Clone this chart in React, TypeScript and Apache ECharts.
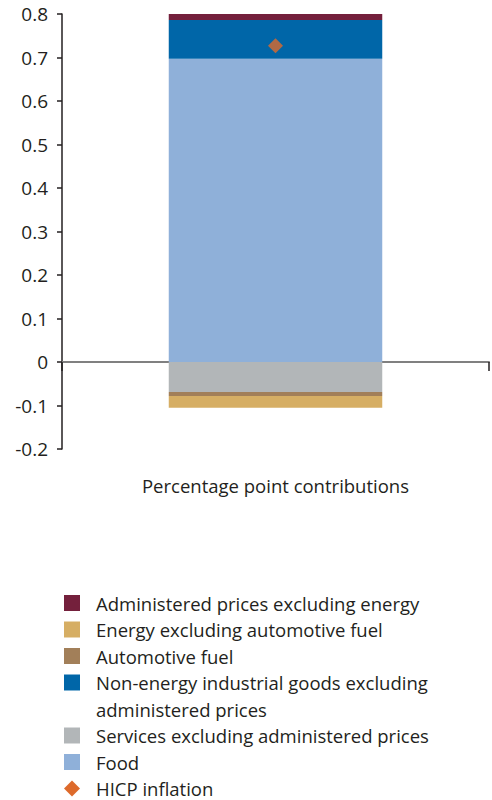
import React, { useEffect, useRef } from "react";
import * as echarts from "echarts";

// Category and contribution values (percentage points)
const categories = ["Percentage point contributions"];
const food = [0.697];
const nonEnergyGoods = [0.089];
const administered = [0.016];
const services = [-0.069];
const automotiveFuel = [-0.009];
const energyExFuel = [-0.027];
const hicp = [0.727];

const yTicks = { min: -0.2, max: 0.8, interval: 0.1 };

const COLORS = {
  administered: "#74203c",
  energyExFuel: "#d6ae64",
  automotiveFuel: "#a27f59",
  nonEnergyGoods: "#0066a8",
  services: "#b2b6b8",
  food: "#8fb0d9",
  hicp: "#dd6a2b",
};

const NAMES = {
  administered: "Administered prices excluding energy",
  energyExFuel: "Energy excluding automotive fuel",
  automotiveFuel: "Automotive fuel",
  nonEnergyGoods: "Non-energy industrial goods excluding administered prices",
  services: "Services excluding administered prices",
  food: "Food",
  hicp: "HICP inflation",
};

// Legend rows, top to bottom; label lines as drawn
const legendRows: { key: keyof typeof COLORS; lines: string[]; diamond?: boolean }[] = [
  { key: "administered", lines: ["Administered prices excluding energy"] },
  { key: "energyExFuel", lines: ["Energy excluding automotive fuel"] },
  { key: "automotiveFuel", lines: ["Automotive fuel"] },
  { key: "nonEnergyGoods", lines: ["Non-energy industrial goods excluding", "administered prices"] },
  { key: "services", lines: ["Services excluding administered prices"] },
  { key: "food", lines: ["Food"] },
  { key: "hicp", lines: ["HICP inflation"], diamond: true },
];

const FONT = "'Open Sans', 'Noto Sans', sans-serif";
const TEXT = "#231f20";

function buildLegend() {
  const elements: any[] = [];
  const lineH = 26.5;
  let row = 0;
  const firstCenter = 603;
  for (const item of legendRows) {
    const cy = firstCenter + row * lineH;
    if (item.diamond) {
      elements.push({
        type: "polygon",
        shape: { points: [[72, cy - 8], [80, cy], [72, cy + 8], [64, cy]] },
        style: { fill: COLORS[item.key] },
      });
    } else {
      elements.push({
        type: "rect",
        shape: { x: 64, y: cy - 8, width: 16, height: 16 },
        style: { fill: COLORS[item.key] },
      });
    }
    elements.push({
      type: "text",
      x: 96,
      y: cy - lineH / 2,
      style: {
        text: item.lines.join("\n"),
        fill: TEXT,
        font: `18.5px ${FONT}`,
        lineHeight: lineH,
        verticalAlign: "top",
        align: "left",
      },
    });
    row += item.lines.length;
  }
  return elements;
}

function barSeries(name: string, data: number[], color: string) {
  return {
    name,
    type: "bar",
    stack: "total",
    data,
    barWidth: "50%",
    itemStyle: { color },
    xAxisIndex: 0,
    yAxisIndex: 0,
  };
}

export default function App() {
  const ref = useRef<HTMLDivElement>(null);

  useEffect(() => {
    if (!ref.current) return;
    const chart = echarts.init(ref.current, undefined, { renderer: "svg" });
    chart.setOption({
      animation: false,
      textStyle: { fontFamily: FONT },
      grid: { left: 62, right: 3, top: 14, bottom: 351, containLabel: false },
      xAxis: [
        {
          type: "category",
          data: categories,
          axisLine: { onZero: true, lineStyle: { color: "#808080", width: 2 } },
          axisTick: { show: true, length: 9, lineStyle: { color: "#231f20", width: 1.5 } },
          axisLabel: { show: false },
        },
        {
          type: "category",
          data: categories,
          position: "bottom",
          axisLine: { show: false, onZero: false },
          axisTick: { show: false },
          axisLabel: { show: true, margin: 27, fontSize: 18.5, color: TEXT, fontFamily: FONT },
        },
      ],
      yAxis: {
        type: "value",
        min: yTicks.min,
        max: yTicks.max,
        interval: yTicks.interval,
        splitLine: { show: false },
        axisLine: { show: true, lineStyle: { color: "#231f20", width: 1.5 } },
        axisTick: { show: true, length: 5, lineStyle: { color: "#231f20", width: 1.5 } },
        axisLabel: {
          margin: 14,
          fontSize: 19,
          color: TEXT,
          fontFamily: FONT,
          formatter: (v: number) => String(Math.round(v * 10) / 10),
        },
      },
      series: [
        barSeries(NAMES.food, food, COLORS.food),
        barSeries(NAMES.nonEnergyGoods, nonEnergyGoods, COLORS.nonEnergyGoods),
        barSeries(NAMES.administered, administered, COLORS.administered),
        barSeries(NAMES.services, services, COLORS.services),
        barSeries(NAMES.automotiveFuel, automotiveFuel, COLORS.automotiveFuel),
        barSeries(NAMES.energyExFuel, energyExFuel, COLORS.energyExFuel),
        {
          name: NAMES.hicp,
          type: "scatter",
          data: hicp,
          symbol: "diamond",
          symbolSize: [15, 15],
          itemStyle: { color: COLORS.hicp },
          z: 5,
        },
      ],
      graphic: buildLegend(),
    });
    return () => chart.dispose();
  }, []);

  return (
    <div
      ref={ref}
      style={{ position: "fixed", left: 0, top: 0, width: 492, height: 800, background: "#fff" }}
    />
  );
}
